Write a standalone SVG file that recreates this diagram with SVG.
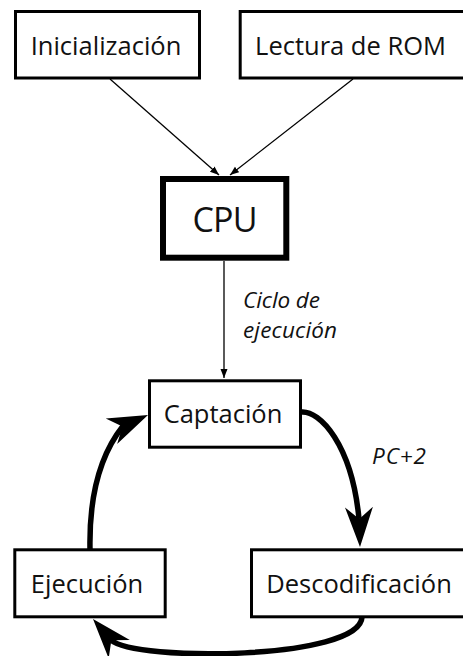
<svg xmlns="http://www.w3.org/2000/svg" xmlns:xlink="http://www.w3.org/1999/xlink" width="463" height="656" viewBox="0 0 463 656">
<style>
.box{fill:#fff;stroke:#000;stroke-width:3}
.cpu{fill:#fff;stroke:#000;stroke-width:6}
.lbl{font-family:"Open Sans","Noto Sans","DejaVu Sans",sans-serif;font-size:25.5px;fill:#111}
.it{font-family:"Open Sans","Noto Sans","DejaVu Sans",sans-serif;font-size:22.5px;font-style:italic;fill:#111}
.thin{fill:none;stroke:#000;stroke-width:1.3}
.thick{fill:none;stroke:#000;stroke-width:5.5}
</style>
<defs>
<marker id="sa" markerUnits="userSpaceOnUse" markerWidth="10" markerHeight="8" refX="9" refY="3.5" orient="auto">
<path d="M0,0 L9,3.5 L0,7 Z" fill="#000"/>
</marker>
<path id="ah" d="M0,0 L-40,-14 L-28,0 L-40,14 Z" fill="#000"/>
</defs>
<g id="connectors">
<path class="thin" d="M110,79 L219,175" marker-end="url(#sa)"/>
<path class="thin" d="M353,79 L230,175" marker-end="url(#sa)"/>
<path class="thin" d="M224,261 L224,378" marker-end="url(#sa)"/>
<path class="thick" d="M301,412 C320,410 352,445 359,519"/>
<use xlink:href="#ah" transform="translate(360,547) rotate(88.5)"/>
<path class="thick" d="M362,617 C360,660 135,662 111,640"/>
<use xlink:href="#ah" transform="translate(93,619) rotate(229)"/>
<path class="thick" d="M90,549 C89,495 100,455 123,426"/>
<use xlink:href="#ah" transform="translate(148,415) rotate(-24)"/>
<text class="it" x="243" y="308" textLength="77">Ciclo de</text>
<text class="it" x="243" y="338" textLength="94">ejecución</text>
<text class="it" x="372" y="464" textLength="54">PC+2</text>
</g>
<g id="n-inicializacion">
<rect class="box" x="15.5" y="11.5" width="184" height="66.5"/>
<text class="lbl" x="106" y="55" text-anchor="middle">Inicialización</text>
</g>
<g id="n-lectura">
<rect class="box" x="240.2" y="11.5" width="240" height="66.5"/>
<text class="lbl" x="350.5" y="55" text-anchor="middle">Lectura de ROM</text>
</g>
<g id="n-cpu">
<rect class="cpu" x="163" y="179" width="123.3" height="78.7"/>
<text class="lbl" x="225" y="232" text-anchor="middle" style="font-size:34px" textLength="65">CPU</text>
</g>
<g id="n-captacion">
<rect class="box" x="149.5" y="380.8" width="151" height="66.4"/>
<text class="lbl" x="223" y="423" text-anchor="middle">Captación</text>
</g>
<g id="n-ejecucion">
<rect class="box" x="14.8" y="549.8" width="150.4" height="67"/>
<text class="lbl" x="87" y="593" text-anchor="middle">Ejecución</text>
</g>
<g id="n-descodificacion">
<rect class="box" x="251.5" y="549.8" width="240" height="67"/>
<text class="lbl" x="359" y="593" text-anchor="middle">Descodificación</text>
</g>
</svg>
